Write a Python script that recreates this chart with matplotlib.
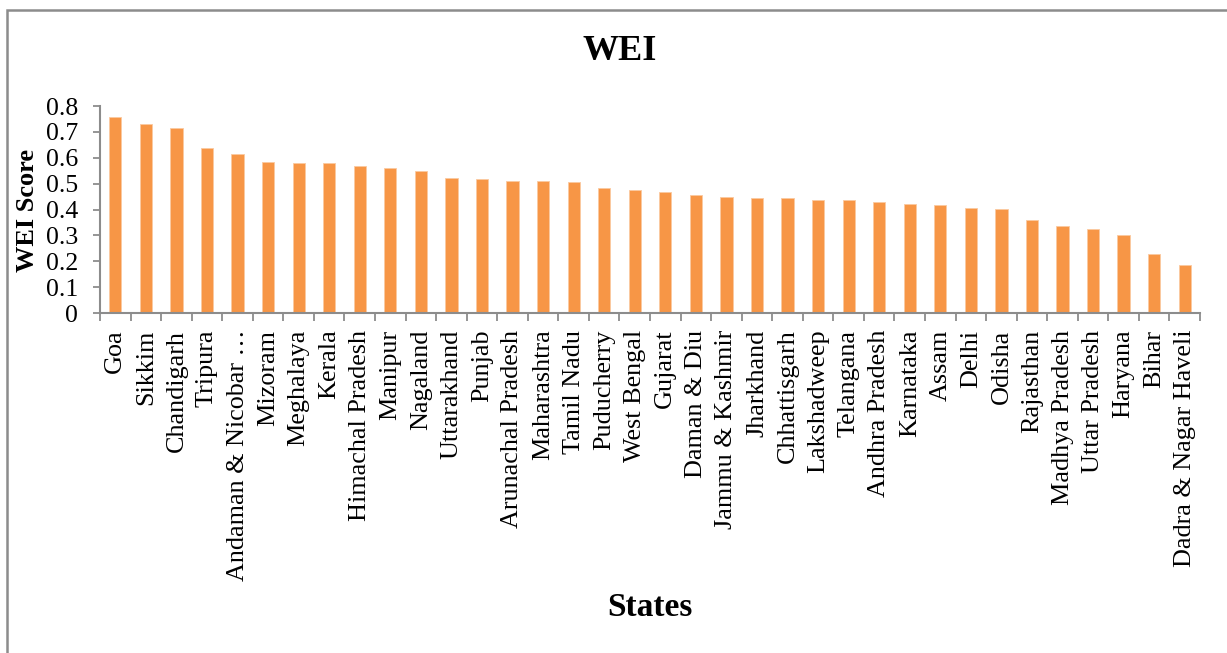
import numpy as np
import matplotlib.pyplot as plt
from matplotlib.patches import Rectangle

plt.rcParams['font.family'] = ['Liberation Serif', 'DejaVu Serif']

states = ['Goa', 'Sikkim', 'Chandigarh', 'Tripura', 'Andaman & Nicobar \u2026',
          'Mizoram', 'Meghalaya', 'Kerala', 'Himachal Pradesh', 'Manipur',
          'Nagaland', 'Uttarakhand', 'Punjab', 'Arunachal Pradesh', 'Maharashtra',
          'Tamil Nadu', 'Puducherry', 'West Bengal', 'Gujarat', 'Daman & Diu',
          'Jammu & Kashmir', 'Jharkhand', 'Chhattisgarh', 'Lakshadweep', 'Telangana',
          'Andhra Pradesh', 'Karnataka', 'Assam', 'Delhi', 'Odisha',
          'Rajasthan', 'Madhya Pradesh', 'Uttar Pradesh', 'Haryana', 'Bihar',
          'Dadra & Nagar Haveli']
wei = [0.758, 0.730, 0.715, 0.637, 0.615,
       0.584, 0.580, 0.579, 0.568, 0.561,
       0.548, 0.521, 0.517, 0.512, 0.509,
       0.508, 0.482, 0.477, 0.467, 0.455,
       0.448, 0.446, 0.445, 0.436, 0.435,
       0.429, 0.423, 0.418, 0.405, 0.401,
       0.360, 0.337, 0.324, 0.301, 0.228,
       0.186]
yticks = [0, 0.1, 0.2, 0.3, 0.4, 0.5, 0.6, 0.7, 0.8]

W, H = 1227, 653
fig = plt.figure(figsize=(W / 100, H / 100), dpi=100)
ax = fig.add_axes([100 / W, 1 - 313 / H, 1100 / W, 207 / H])

x = np.arange(len(states))
ax.bar(x, wei, width=0.4, color='#F79646', edgecolor='#FBC9A0', linewidth=0.6)

grey = '#8C8C8C'
ax.set_xlim(-0.5, len(states) - 0.5)
ax.set_ylim(0, 0.8)
ax.set_yticks(yticks)
ax.set_yticklabels(['0' if v == 0 else f'{v:.1f}' for v in yticks])
ax.set_xticks(x)
ax.set_xticklabels(states, rotation=90)
ax.set_xticks(np.arange(-0.5, len(states)), minor=True)

ax.tick_params(axis='x', which='major', length=0, pad=12, labelsize=18.8)
ax.tick_params(axis='x', which='minor', length=6, width=1.3, color=grey, direction='out')
ax.tick_params(axis='y', length=5, width=1.3, color=grey, labelsize=18.5, pad=11)

for s in ['top', 'right']:
    ax.spines[s].set_visible(False)
for s in ['left', 'bottom']:
    ax.spines[s].set_color(grey)
    ax.spines[s].set_linewidth(1.5)

fig.text(620 / W, 1 - 52 / H, 'WEI', ha='center', va='center',
         fontsize=26, fontweight='bold')
fig.text(650 / W, 1 - 608 / H, 'States', ha='center', va='center',
         fontsize=24, fontweight='bold')
fig.text(28 / W, 1 - 210 / H, 'WEI Score', ha='center', va='center',
         rotation=90, fontsize=19, fontweight='bold')

# outer frame (only left and top are visible in the picture)
fig.patches.append(Rectangle((7 / W, -0.05), 1.1, 1 - 10 / H + 0.05,
                             transform=fig.transFigure, fill=False,
                             edgecolor=grey, linewidth=1.8))

fig.savefig('out.png', dpi=100)
